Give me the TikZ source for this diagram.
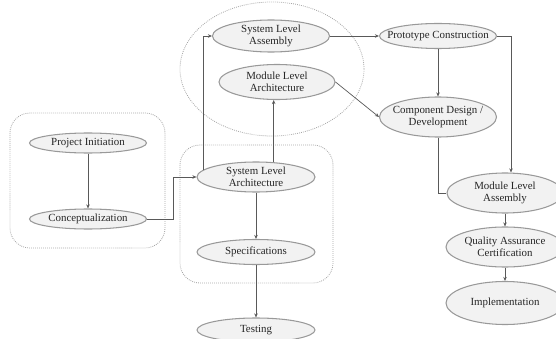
\documentclass[tikz,border=0pt]{standalone}
\usepackage{fontspec}
\setmainfont{Liberation Serif}
\usetikzlibrary{shapes.geometric,positioning,arrows.meta}

\begin{document}
\begin{tikzpicture}[x=0.03cm, y=-0.03cm,
  phase/.style={draw=gray!80, line width=0.9pt, ellipse, fill=gray!10, inner sep=-20pt, minimum width=3.51cm, font=\fontsize{9.3}{10.5}\selectfont, text=black!85, align=center},
  flow/.style={-{Stealth[length=3.5pt, width=3pt]}, line width=0.6pt, draw=black!65},
  link/.style={line width=0.6pt, draw=black!65},
  group/.style={densely dotted, gray!70, line width=0.7pt},
]
  \useasboundingbox (0,0) rectangle (556,339);

  % Groups
  \draw[group, rounded corners=0.6cm] (10,113) rectangle (165,248);
  \draw[group, rounded corners=0.6cm] (180,145) rectangle (333,283);
  \draw[group] (272,69) ellipse [x radius=2.76cm, y radius=2.01cm];

  % Phases
  \node[phase, minimum height=0.6cm] (init) at (88,143) {Project Initiation};
  \node[phase, minimum height=0.6cm] (concept) at (88,219) {Conceptualization};
  \node[phase, minimum height=0.9cm, minimum width=3.54cm] (sysarch) at (256,177) {System Level\\Architecture};
  \node[phase, minimum height=0.75cm, minimum width=3.54cm] (specs) at (256,252) {Specifications};
  \node[phase, minimum height=0.72cm, minimum width=3.54cm] (testing) at (256,330) {Testing};
  \node[phase, minimum height=0.96cm] (sysasm) at (271,36) {System Level\\Assembly};
  \node[phase, minimum height=1.05cm, minimum width=3.48cm] (modarch) at (277,82) {Module Level\\Architecture};
  \node[phase, minimum height=0.75cm] (proto) at (438,36) {Prototype Construction};
  \node[phase, minimum height=1.2cm] (compdes) at (438,117) {Component Design /\\Development};
  \node[phase, minimum height=1.2cm, minimum width=3.48cm] (modasm) at (505,193) {Module Level\\Assembly};
  \node[phase, minimum height=1.2cm, minimum width=3.54cm] (qa) at (505,247) {Quality Assurance\\Certification};
  \node[phase, minimum height=1.29cm, minimum width=3.54cm] (impl) at (505,303) {Implementation};

  % Connectors
  \draw[flow] (init) -- (concept);
  \draw[flow] (concept.east) -- ++(26,0) |- (sysarch);
  \draw[flow] (sysarch) -- (specs);
  \draw[flow] (specs) -- (testing);
  \draw[flow] (sysarch.172) |- (sysasm);
  \draw[flow] (sysarch.40) -- (sysarch.40 |- modarch.south);
  \draw[flow] (sysasm) -- (proto);
  \draw[flow] (modarch.east) -- (compdes.west);
  \draw[flow] (proto) -- (compdes);
  \draw[flow] (proto) -| ([xshift=0.18cm]modasm.north);
  \draw[link] (compdes) |- (modasm);
  \draw[flow] (modasm) -- (qa);
  \draw[flow] (qa) -- (impl);

\end{tikzpicture}
\end{document}
